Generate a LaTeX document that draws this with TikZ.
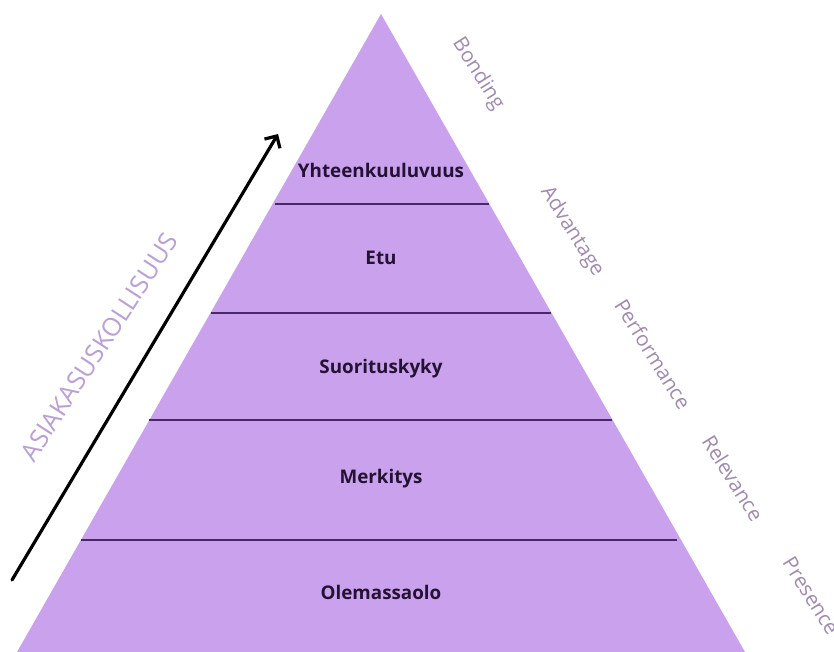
\documentclass[tikz,border=0pt]{standalone}
\usepackage{fontspec}
\setmainfont{Open Sans}
\usetikzlibrary{arrows.meta}
\definecolor{pyrfill}{RGB}{202,161,236}
\definecolor{pyrline}{RGB}{72,40,102}
\definecolor{lvltext}{RGB}{36,18,52}
\definecolor{sidetext}{RGB}{160,138,176}
\definecolor{axistext}{RGB}{186,160,212}
\tikzset{
  level/.style={font=\fontsize{18.8}{22}\selectfont\bfseries, text=lvltext, inner sep=0pt},
  sidelabel/.style={font=\fontsize{20.5}{24}\selectfont, text=sidetext, rotate=-58, inner sep=0pt},
  divider/.style={draw=pyrline, line width=1.5pt},
}
\begin{document}
\begin{tikzpicture}[x=1pt,y=-1pt]
\useasboundingbox (0,0) rectangle (834,652);
\clip (0,0) rectangle (834,652);
\fill[white] (0,0) rectangle (834,652);
% pyramid
\coordinate (apex) at (381,14);
\coordinate (bl) at (17,652);
\coordinate (br) at (745,652);
\fill[pyrfill] (apex) -- (bl) -- (br) -- cycle;
% dividers
\coordinate (d1l) at (275,204); \coordinate (d1r) at (489,204);
\coordinate (d2l) at (211,313); \coordinate (d2r) at (551,313);
\coordinate (d3l) at (149,420); \coordinate (d3r) at (612,420);
\coordinate (d4l) at (81,540);  \coordinate (d4r) at (677,540);
\draw[divider] (d1l) -- (d1r);
\draw[divider] (d2l) -- (d2r);
\draw[divider] (d3l) -- (d3r);
\draw[divider] (d4l) -- (d4r);
% level labels
\node[level] (l1) at (381,170) {Yhteenkuuluvuus};
\node[level] (l2) at (381,258) {Etu};
\node[level] (l3) at (381,369) {Suorituskyky};
\node[level] (l4) at (381,479) {Merkitys};
\node[level] (l5) at (381,592) {Olemassaolo};
% side labels
\node[sidelabel] (s1) at (478,74) {Bonding};
\node[sidelabel] (s2) at (572,232) {Advantage};
\node[sidelabel] (s3) at (653,354) {Performance};
\node[sidelabel] (s4) at (733,478) {Relevance};
\node[sidelabel] (s5) at (811,596) {Presence};
% axis arrow
\coordinate (a0) at (12,580);
\coordinate (a1) at (278,134);
\draw[line width=3.2pt, line cap=round, -{Straight Barb[length=9pt,width=18pt,line width=3.2pt]}] (a0) -- (a1);
\node[font=\fontsize{25.5}{30}\selectfont, text=axistext, rotate=57, inner sep=0pt] (ax) at (99,347) {ASIAKASUSKOLLISUUS};
\end{tikzpicture}
\end{document}
